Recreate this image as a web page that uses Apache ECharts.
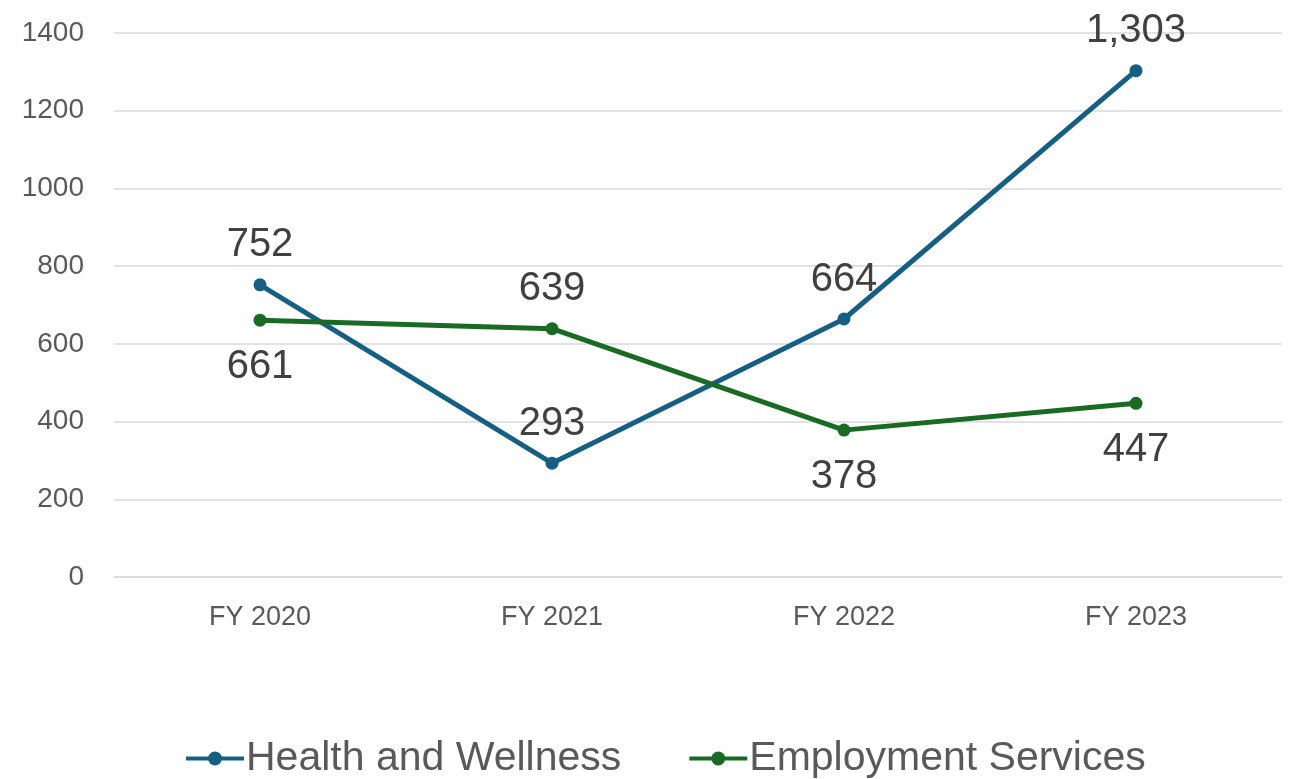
<!DOCTYPE html>
<html>
<head>
<meta charset="utf-8">
<script src="https://cdn.jsdelivr.net/npm/echarts@6/dist/echarts.min.js"></script>
<style>
  html, body { margin: 0; padding: 0; background: #fff; }
  #chart { width: 1296px; height: 779px; }
</style>
</head>
<body>
<div id="chart"></div>
<script>
// data
const years = ['FY 2020', 'FY 2021', 'FY 2022', 'FY 2023']
const healthWellness = [752, 293, 664, 1303]
const employmentServices = [661, 639, 378, 447]
const healthLabelPos = ['top', 'top', 'top', 'top']
const employmentLabelPos = ['bottom', 'top', 'bottom', 'bottom']

// line-with-dot legend marker, same look as the reference
const lineDotIcon = 'path://M0,5h58v4h-58z M22,7a7,7 0 1,1 14,0a7,7 0 1,1 -14,0z'

const chart = echarts.init(document.getElementById('chart'))

function withLabels(values, positions) {
  return values.map((v, i) => ({
    value: v,
    label: { position: positions[i], distance: positions[i] === 'top' ? 13 : 20 }
  }))
}

const labelStyle = {
  show: true,
  fontFamily: '"Liberation Sans", Arial, sans-serif',
  fontSize: 40,
  color: '#404040',
  formatter: p => p.value.toLocaleString('en-US')
}

const option = {
  animation: false,
  textStyle: { fontFamily: '"Liberation Sans", Arial, sans-serif' },
  grid: { left: 114, right: 14, top: 33, bottom: 202 },
  legend: {
    top: 733,
    left: 181,
    itemWidth: 58,
    itemHeight: 14,
    itemGap: 68,
    icon: lineDotIcon,
    textStyle: { fontSize: 41, color: '#595959', padding: [0, 0, 0, -3] },
    data: ['Health and Wellness', 'Employment Services']
  },
  xAxis: {
    type: 'category',
    data: years,
    boundaryGap: true,
    axisLine: { lineStyle: { color: '#d9d9d9', width: 1.5 } },
    axisTick: { show: false },
    axisLabel: { fontSize: 27, color: '#595959', margin: 27 }
  },
  yAxis: {
    type: 'value',
    min: 0,
    max: 1400,
    interval: 200,
    axisLine: { show: false },
    axisTick: { show: false },
    splitLine: { lineStyle: { color: '#d9d9d9', width: 1.5 } },
    axisLabel: { fontSize: 28, color: '#595959', margin: 30, formatter: v => String(v) }
  },
  series: [
    {
      name: 'Health and Wellness',
      type: 'line',
      data: withLabels(healthWellness, healthLabelPos),
      symbol: 'circle',
      symbolSize: 13,
      color: '#156082',
      lineStyle: { width: 5, color: '#156082' },
      itemStyle: { color: '#156082' },
      label: labelStyle
    },
    {
      name: 'Employment Services',
      type: 'line',
      data: withLabels(employmentServices, employmentLabelPos),
      symbol: 'circle',
      symbolSize: 13,
      color: '#196b24',
      lineStyle: { width: 5, color: '#196b24' },
      itemStyle: { color: '#196b24' },
      label: labelStyle
    }
  ]
}

chart.setOption(option)
</script>
</body>
</html>
